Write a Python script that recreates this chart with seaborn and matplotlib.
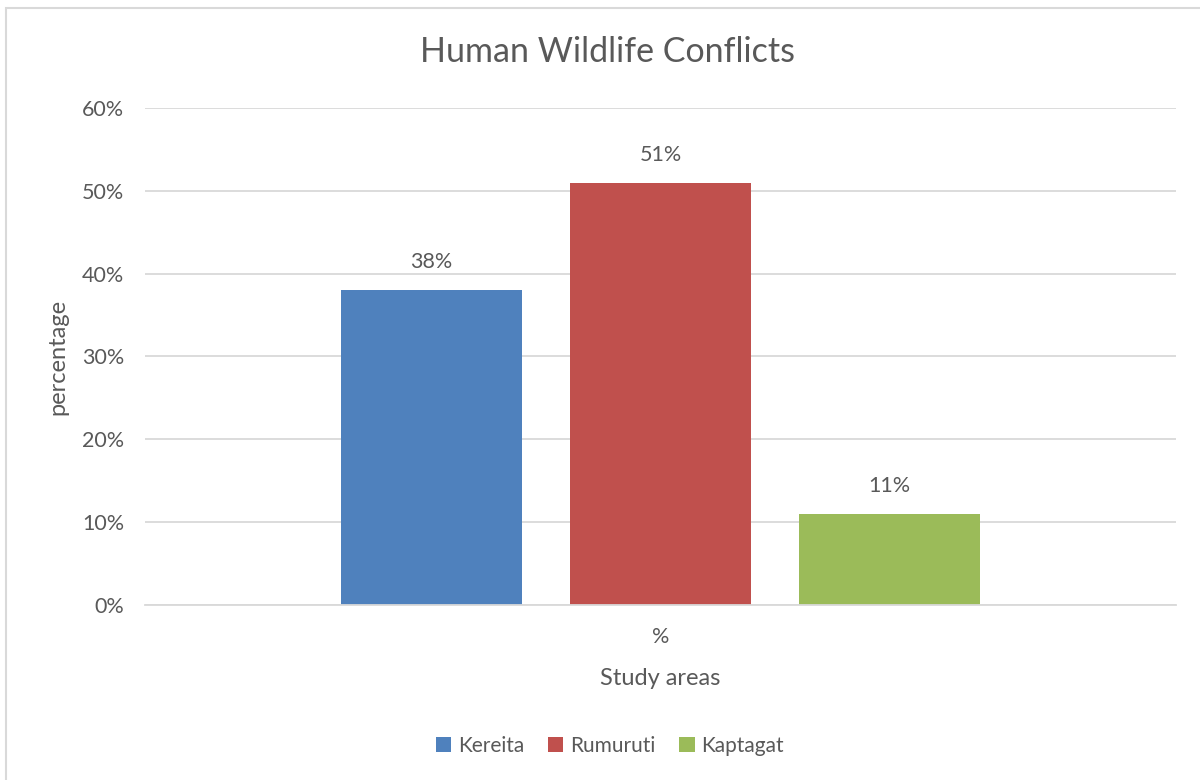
import matplotlib
matplotlib.use("Agg")
import matplotlib.pyplot as plt
from matplotlib.patches import Rectangle
from matplotlib.ticker import PercentFormatter
import seaborn as sns
import pandas as pd

# Share of reported human-wildlife conflicts per study area
areas = ["Kereita", "Rumuruti", "Kaptagat"]
shares = [0.38, 0.51, 0.11]
category = ["%", "%", "%"]
colors = ["#4F81BD", "#C0504D", "#9BBB59"]
yticks = [0.0, 0.1, 0.2, 0.3, 0.4, 0.5, 0.6]

df = pd.DataFrame({"category": category, "area": areas, "share": shares})

sns.set_theme(style="white")
plt.rcParams["font.family"] = ["Lato", "DejaVu Sans"]
text_color = "#595959"
grid_color = "#D9D9D9"

fig = plt.figure(figsize=(12, 7.8), dpi=100)
ax = fig.add_axes([0.1208, 0.2244, 0.8592, 0.6371])

sns.barplot(data=df, x="category", y="share", hue="area", hue_order=areas,
            palette=colors, width=0.666, gap=0.21, saturation=1,
            edgecolor="none", legend=True, ax=ax)

ax.set_xlim(-0.5, 0.5)
ax.set_ylim(0, 0.6)
ax.set_yticks(yticks)
ax.yaxis.set_major_formatter(PercentFormatter(1.0, decimals=0))
ax.yaxis.grid(True, color=grid_color, linewidth=1.3)
ax.set_axisbelow(True)
for side in ["top", "right", "left"]:
    ax.spines[side].set_visible(False)
ax.spines["bottom"].set_color(grid_color)
ax.spines["bottom"].set_linewidth(1.3)
ax.tick_params(axis="both", length=0, labelsize=15.5, colors=text_color)
ax.tick_params(axis="y", pad=15)
ax.tick_params(axis="x", pad=16)

# value labels above each bar
for container in ax.containers:
    ax.bar_label(container, labels=[f"{v*100:.0f}%" for v in container.datavalues],
                 padding=13, fontsize=15.5, color=text_color)

ax.set_xlabel("Study areas", fontsize=17, color=text_color, labelpad=15)
ax.set_ylabel("percentage", fontsize=17, color=text_color, labelpad=10)

fig.suptitle("Human Wildlife Conflicts", x=0.506, y=1 - 52 / 780, va="center",
             fontsize=24.5, color=text_color)

handles, labels = ax.get_legend_handles_labels()
ax.get_legend().remove()
fig.legend(handles, labels, loc="center", bbox_to_anchor=(0.508, 0.044),
           ncol=3, frameon=False, fontsize=15, handlelength=0.75,
           handleheight=0.75, handletextpad=0.3, columnspacing=1.15,
           labelcolor=text_color)

# chart-area border
fig.patches.append(Rectangle((6 / 1200, -0.1), 1.2, 1 - 8 / 780 + 0.1,
                             transform=fig.transFigure, fill=False,
                             edgecolor=grid_color, linewidth=1.5))

fig.savefig("out.png", dpi=100)
